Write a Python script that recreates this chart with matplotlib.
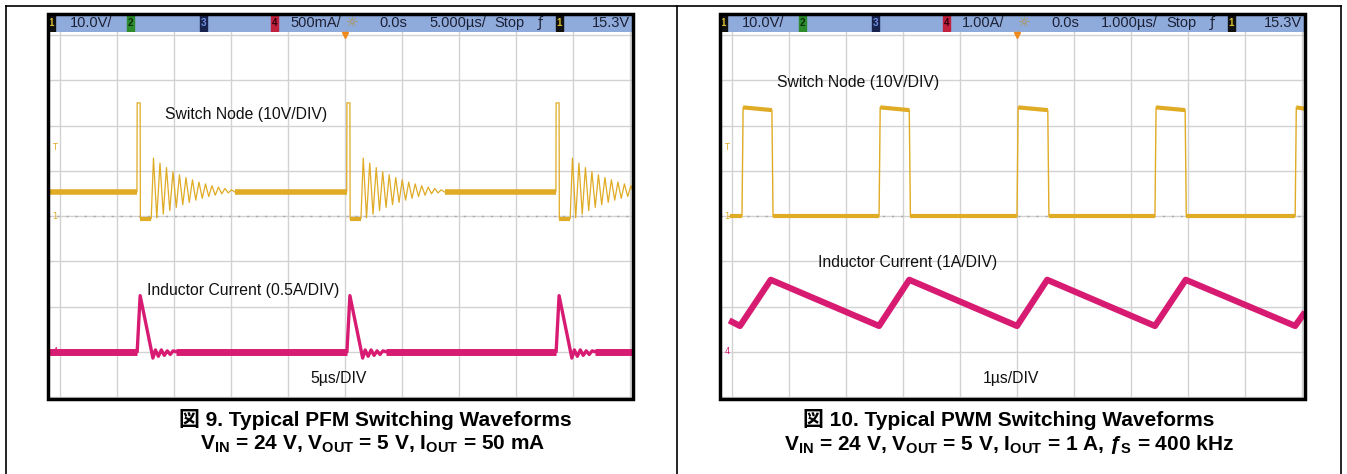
import matplotlib.pyplot as plt
from matplotlib.patches import Rectangle
from matplotlib.lines import Line2D
import numpy as np

W, H = 1347, 474

plt.rcParams['mathtext.fontset'] = 'custom'
plt.rcParams['mathtext.rm'] = 'Liberation Sans:bold'
plt.rcParams['mathtext.it'] = 'Liberation Sans:bold:italic'
plt.rcParams['mathtext.bf'] = 'Liberation Sans:bold'

YEL = '#e0ab25'
PNK = '#d81b72'
GRID = '#d2d2d2'
HEAD = '#8fabdc'

# Fig 9, PFM, 5 us/div, time in us from the left grid line
pfm_pulses = [6.75, 25.15, 43.5]
pfm_vbase = 5.3                                  # V, switch node between pulses
pfm_sw_dt = [0.0, 0.02, 0.28, 0.30, 1.25]        # pulse template
pfm_sw_v = [5.3, 25.0, 25.0, -0.6, -0.6]
pfm_ring_dt = [1.45, 1.74, 2.02, 2.31, 2.59, 2.88, 3.16, 3.45, 3.73, 4.02,
               4.30, 4.59, 4.87, 5.16, 5.44, 5.73, 6.01, 6.30, 6.58, 6.87,
               7.15, 7.44, 7.72, 8.01, 8.29, 8.58]
pfm_ring_v = [12.8, -0.4, 11.7, 0.4, 10.7, 1.2, 9.8, 1.9, 9.1, 2.5,
              8.5, 3.0, 8.0, 3.5, 7.5, 3.9, 7.1, 4.3, 6.7, 4.6,
              6.4, 4.9, 6.1, 5.1, 5.8, 5.3]
pfm_il_dt = [0.0, 0.02, 0.28, 1.40, 1.62, 1.88, 2.14, 2.40, 2.66, 2.92, 3.18, 3.44]
pfm_il = [0.0, 0.0, 0.62, -0.07, 0.02, -0.05, 0.02, -0.04, 0.01, -0.03, 0.01, 0.0]

# Fig 10, PWM, 1 us/div
pwm_rise = [0.175, 2.58, 5.0, 7.42, 9.88]
pwm_fall = [0.70, 3.11, 5.54, 7.95]
pwm_vhigh = [24.0, 23.4]     # start / end of on-time
pwm_vlow = -0.1
pwm_il_t = [0.0, 0.14, 0.68, 2.58, 3.11, 5.0, 5.53, 7.42, 7.96, 9.88, 10.02]
pwm_il = [0.66, 0.57, 1.59, 0.57, 1.59, 0.57, 1.59, 0.57, 1.59, 0.57, 0.82]

hdr_left = ['10.0V/', '500mA/', '0.0s', '5.000µs/', 'Stop', '15.3V']
hdr_right = ['10.0V/', '1.00A/', '0.0s', '1.000µs/', 'Stop', '15.3V']

fig = plt.figure(figsize=(W / 100, H / 100), dpi=100)


def fx(px):
    return px / W


def fy(py):
    return 1 - py / H


def px_axes(x0, y0, x1, y1):
    return fig.add_axes([fx(x0), fy(y1), (x1 - x0) / W, (y1 - y0) / H])


def flin(x0, y0, x1, y1, lw=1.2, c='black'):
    fig.add_artist(Line2D([fx(x0), fx(x1)], [fy(y0), fy(y1)], lw=lw, color=c,
                          transform=fig.transFigure))


# table lines
flin(6, 6, 1341, 6)
flin(6, 6, 6, 474)
flin(677, 6, 677, 474)
flin(1341, 6, 1341, 474)


def scope(x0, grid_x0, tdiv, hdr, labels):
    # header bar
    hx = px_axes(x0, 14, x0 + 585, 32)
    hx.set_facecolor(HEAD)
    hx.set_xlim(0, 585)
    hx.set_ylim(0, 18)
    hx.set_xticks([])
    hx.set_yticks([])
    for s in hx.spines.values():
        s.set_visible(False)
    boxes = [(0, '#101010', '#d8c030', '1'), (79, '#2c8c2c', '#0c2a0c', '2'),
             (152, '#18244e', '#6f8fe0', '3'), (223, '#c0203c', '#300010', '4'),
             (508, '#101010', '#d8c030', '1')]
    for bx, bc, tc, t in boxes:
        hx.add_patch(Rectangle((bx, 1), 7, 16, color=bc))
        hx.text(bx + 3.5, 9, t, color=tc, fontsize=7, ha='center', va='center',
                fontweight='bold', family=['Liberation Sans Narrow', 'Liberation Sans'])
    offs = [22, 242, 331, 381, 446, 544]
    for o, t in zip(offs, hdr):
        hx.text(o, 9, t, color='#1c2034', fontsize=10.5, ha='left', va='center',
                family=['Liberation Sans Narrow', 'Liberation Sans'])
    hx.text(304, 9, '☼', color='#b09040', fontsize=10, ha='center', va='center',
            family='DejaVu Sans')
    hx.text(492, 9, 'ƒ', color='#1c2034', fontsize=10, ha='center', va='center',
            family='DejaVu Sans')

    ax = px_axes(x0, 32, x0 + 585, 399)
    ax.set_xlim((x0 - grid_x0) / 57 * tdiv, (x0 + 585 - grid_x0) / 57 * tdiv)
    ax.set_ylim(-2 / 45.25, 365 / 45.25)
    ax.set_xticks([])
    ax.set_yticks([])
    for s in ax.spines.values():
        s.set_visible(False)
    for k in range(11):
        ax.axvline(k * tdiv, color=GRID, lw=1, zorder=0)
    for k in range(9):
        ax.axhline(k, color=GRID, lw=1, zorder=0)
    ax.axhline(4, color='#a8a8a8', lw=1, ls=(0, (1.5, 5)), zorder=0)
    ax.plot([5 * tdiv], [8.0], marker='v', color='#f08a1c', ms=5, clip_on=False)
    # channel markers at the left margin
    mx = (x0 + 7 - grid_x0) / 57 * tdiv
    ax.text(mx, (397 - 147) / 45.25, 'T', color=YEL, fontsize=6, ha='center', va='center')
    ax.text(mx, 4, '1', color=YEL, fontsize=6, ha='center', va='center')
    ax.text(mx, 1, '4', color=PNK, fontsize=6, ha='center', va='center')
    # frame
    fig.add_artist(Rectangle((fx(x0), fy(399)), 585 / W, 385 / H, fill=False,
                             lw=2.5, ec='black', transform=fig.transFigure))
    for (lx, ly, t) in labels:
        fig.text(fx(lx), fy(ly), t, fontsize=11.3, ha='left', va='center',
                 family='Liberation Sans', color='#111111')
    return ax


# ---------- left scope (PFM) ----------
axl = scope(48, 60, 5, hdr_left,
            [(165, 115, 'Switch Node (10V/DIV)'),
             (147, 290, 'Inductor Current (0.5A/DIV)'),
             (310, 378, '5µs/DIV')])

sw_t, sw_v = [-1.0], [pfm_vbase]
il_t, il_v = [-1.0], [0.0]
for p in pfm_pulses:
    sw_t += [p + d for d in pfm_sw_dt] + [p + d for d in pfm_ring_dt]
    sw_v += pfm_sw_v + pfm_ring_v
    il_t += [p + d for d in pfm_il_dt]
    il_v += pfm_il
sw_t.append(52.0)
sw_v.append(pfm_vbase)
il_t.append(52.0)
il_v.append(0.0)

axl.plot(sw_t, 4 + np.array(sw_v) / 10, color=YEL, lw=0.9)
# thick noisy baseline between events
starts = [-1.0] + [p + pfm_ring_dt[-1] for p in pfm_pulses]
ends = pfm_pulses + [52.0]
for a, b in zip(starts, ends):
    axl.plot([a, b], [4 + pfm_vbase / 10] * 2, color=YEL, lw=4, solid_capstyle='butt')
for p in pfm_pulses:
    axl.plot([p + pfm_sw_dt[3], p + pfm_sw_dt[4]], [4 + pfm_sw_v[3] / 10] * 2,
             color=YEL, lw=3, solid_capstyle='butt')

axl.plot(il_t, 1 + np.array(il_v) / 0.5, color=PNK, lw=2.4)
starts = [-1.0] + [p + pfm_il_dt[-1] for p in pfm_pulses]
for a, b in zip(starts, ends):
    axl.plot([a, b], [1, 1], color=PNK, lw=5, solid_capstyle='butt')

# ---------- right scope (PWM) ----------
axr = scope(720, 732, 1, hdr_right,
            [(777, 83, 'Switch Node (10V/DIV)'),
             (818, 262, 'Inductor Current (1A/DIV)'),
             (983, 378, '1µs/DIV')])

t, v = [-0.05], [pwm_vlow]
for i, r in enumerate(pwm_rise):
    t += [r, r + 0.02]
    v += [pwm_vlow, pwm_vhigh[0]]
    if i < len(pwm_fall):
        f = pwm_fall[i]
        t += [f, f + 0.02]
        v += [pwm_vhigh[1], pwm_vlow]
t.append(10.2)
v.append(pwm_vhigh[0])
axr.plot(t, 4 + np.array(v) / 10, color=YEL, lw=1)
for i, r in enumerate(pwm_rise):
    f = pwm_fall[i] if i < len(pwm_fall) else 10.2
    axr.plot([r + 0.02, f], [4 + pwm_vhigh[0] / 10, 4 + pwm_vhigh[1] / 10],
             color=YEL, lw=3, solid_capstyle='butt')
lows = [-0.05] + pwm_fall
for a, b in zip(lows, pwm_rise):
    axr.plot([a + 0.02, b], [4 + pwm_vlow / 10] * 2, color=YEL, lw=3,
             solid_capstyle='butt')
axr.plot(pwm_il_t, 1 + np.array(pwm_il), color=PNK, lw=4.5)

# ---------- captions ----------
cap = dict(fontsize=15, fontweight='bold', ha='center', va='center',
           family=['Liberation Sans', 'Noto Sans CJK JP'])
fig.text(fx(375), fy(419), '図 9. Typical PFM Switching Waveforms', **cap)
fig.text(fx(373), fy(444),
         r'V$_\mathregular{IN}$ = 24 V, V$_\mathregular{OUT}$ = 5 V, '
         r'I$_\mathregular{OUT}$ = 50 mA', **cap)
fig.text(fx(1009), fy(419), '図 10. Typical PWM Switching Waveforms', **cap)
fig.text(fx(1009), fy(444),
         r'V$_\mathregular{IN}$ = 24 V, V$_\mathregular{OUT}$ = 5 V, '
         r'I$_\mathregular{OUT}$ = 1 A, ƒ$_\mathregular{S}$ = 400 kHz', **cap)

fig.savefig('out.png', dpi=100)
